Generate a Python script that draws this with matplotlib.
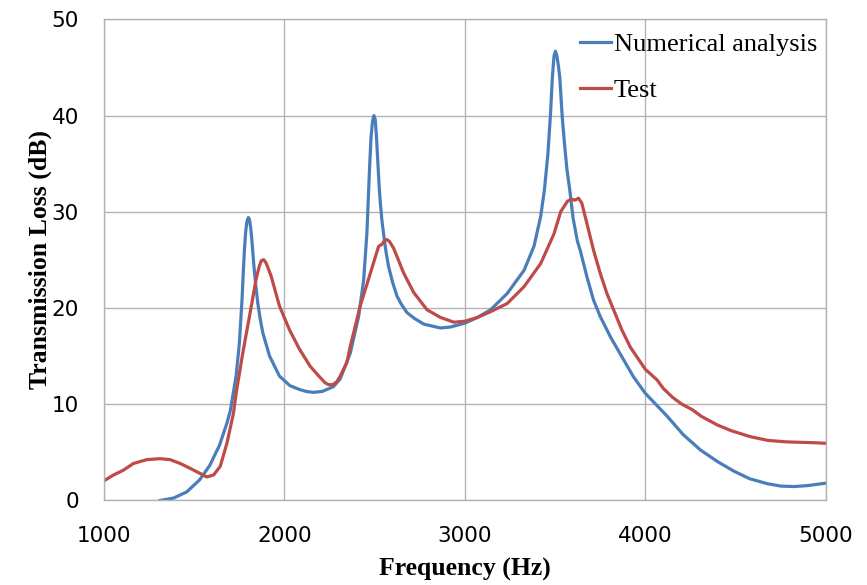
import matplotlib
matplotlib.use("Agg")
import matplotlib.pyplot as plt

# numerical analysis curve (Hz, dB)
num_freq = [1250, 1311, 1385, 1459, 1530, 1586, 1640, 1681, 1700, 1732, 1750, 1765,
            1772, 1778, 1785, 1792, 1800, 1806, 1813, 1820, 1830, 1840, 1852, 1866,
            1880, 1917, 1972, 2030, 2083, 2120, 2160, 2210, 2272, 2309, 2365, 2411,
            2439, 2457, 2465, 2472, 2480, 2488, 2496, 2503, 2510, 2518, 2525, 2531,
            2540, 2550, 2563, 2577, 2600, 2624, 2650, 2679, 2720, 2772, 2864, 2920,
            3000, 3070, 3143, 3235, 3328, 3383, 3420, 3441, 3460, 3474, 3485, 3494,
            3502, 3510, 3518, 3526, 3539, 3550, 3565, 3581, 3600, 3624, 3639, 3676,
            3713, 3750, 3806, 3861, 3935, 4000, 4122, 4210, 4306, 4400, 4491, 4580,
            4676, 4750, 4824, 4900, 5000]
num_tl = [-0.5, -0.05, 0.2, 0.85, 2.1, 3.6, 5.7, 8.0, 9.3, 12.9, 16.3, 20.9,
          23.8, 26.0, 27.9, 29.0, 29.4, 29.2, 28.3, 26.9, 24.5, 22.5, 20.5, 18.8,
          17.4, 15.0, 12.9, 11.9, 11.5, 11.3, 11.2, 11.3, 11.8, 12.6, 15.3, 19.1,
          22.9, 27.8, 31.5, 34.7, 37.8, 39.4, 40.0, 39.6, 37.8, 35.0, 32.6, 31.0,
          29.1, 27.6, 25.8, 24.3, 22.6, 21.2, 20.3, 19.5, 18.9, 18.3, 17.9, 18.0,
          18.4, 19.0, 19.8, 21.5, 23.9, 26.4, 29.5, 32.3, 36.0, 40.0, 44.0, 46.2,
          46.7, 46.2, 45.2, 44.0, 40.0, 37.5, 34.5, 32.3, 29.3, 26.9, 26.0, 23.25,
          20.8, 19.1, 17.0, 15.2, 12.8, 11.1, 8.7, 6.8, 5.2, 4.0, 3.0, 2.2,
          1.7, 1.45, 1.4, 1.5, 1.75]

# test curve (Hz, dB)
test_freq = [1000, 1052, 1107, 1163, 1237, 1311, 1366, 1422, 1477, 1523, 1570, 1607,
             1644, 1681, 1717, 1732, 1769, 1806, 1843, 1860, 1872, 1885, 1897, 1910,
             1926, 1972, 2028, 2083, 2143, 2200, 2225, 2245, 2268, 2290, 2309, 2346,
             2365, 2420, 2476, 2522, 2540, 2555, 2568, 2582, 2605, 2661, 2716, 2790,
             2864, 2939, 3000, 3070, 3143, 3235, 3328, 3420, 3494, 3531, 3569, 3590,
             3610, 3630, 3648, 3676, 3713, 3750, 3787, 3824, 3870, 3917, 4000, 4065,
             4100, 4150, 4200, 4230, 4260, 4311, 4400, 4478, 4580, 4680, 4780, 4864,
             4950, 5000]
test_tl = [2.0, 2.6, 3.1, 3.8, 4.2, 4.3, 4.2, 3.8, 3.3, 2.85, 2.4, 2.6,
           3.5, 5.9, 9.0, 11.1, 15.3, 19.1, 23.0, 24.3, 24.9, 25.0, 24.7, 24.1,
           23.3, 20.2, 17.7, 15.7, 13.9, 12.7, 12.2, 12.0, 12.0, 12.3, 12.9, 14.3,
           16.0, 20.2, 23.6, 26.4, 26.6, 27.0, 27.1, 26.9, 26.2, 23.6, 21.6, 19.8,
           19.0, 18.5, 18.6, 19.0, 19.6, 20.45, 22.2, 24.6, 27.7, 30.0, 31.1, 31.3,
           31.2, 31.4, 30.9, 28.8, 26.0, 23.6, 21.5, 19.8, 17.7, 15.9, 13.6, 12.5,
           11.6, 10.7, 10.0, 9.7, 9.4, 8.7, 7.8, 7.2, 6.6, 6.2, 6.05, 6.0,
           5.95, 5.9]

x_ticks = [1000, 2000, 3000, 4000, 5000]
y_ticks = [0, 10, 20, 30, 40, 50]

fig = plt.figure(figsize=(8.67, 5.85), dpi=100)
ax = fig.add_axes([0.12, 0.1453, 0.8324, 0.8214])

ax.plot(num_freq, num_tl, color='#4A7EBB', lw=2.3, label='Numerical analysis')
ax.plot(test_freq, test_tl, color='#BE4B48', lw=2.3, label='Test')

ax.set_xlim(1000, 5000)
ax.set_ylim(0, 50)
ax.set_xticks(x_ticks)
ax.set_yticks(y_ticks)
ax.grid(True, color='#B3B3B3', lw=1.0)
ax.set_axisbelow(True)
for s in ax.spines.values():
    s.set_color('#B3B3B3')
    s.set_linewidth(1.0)
ax.tick_params(length=0, labelsize=15.5)
ax.tick_params(axis='x', pad=19)
ax.tick_params(axis='y', pad=18)

serif = {'family': 'Liberation Serif', 'weight': 'bold', 'size': 18.5}
ax.set_xlabel('Frequency (Hz)', fontdict=serif, labelpad=8)
ax.set_ylabel('Transmission Loss (dB)', fontdict=serif, labelpad=0)

ax.legend(loc='upper left', bbox_to_anchor=(0.66, 0.972), frameon=False,
          prop={'family': 'Liberation Serif', 'size': 19},
          handlelength=1.15, handletextpad=0.12, borderpad=0, borderaxespad=0,
          labelspacing=0.85)

fig.savefig('out.png', dpi=100)
